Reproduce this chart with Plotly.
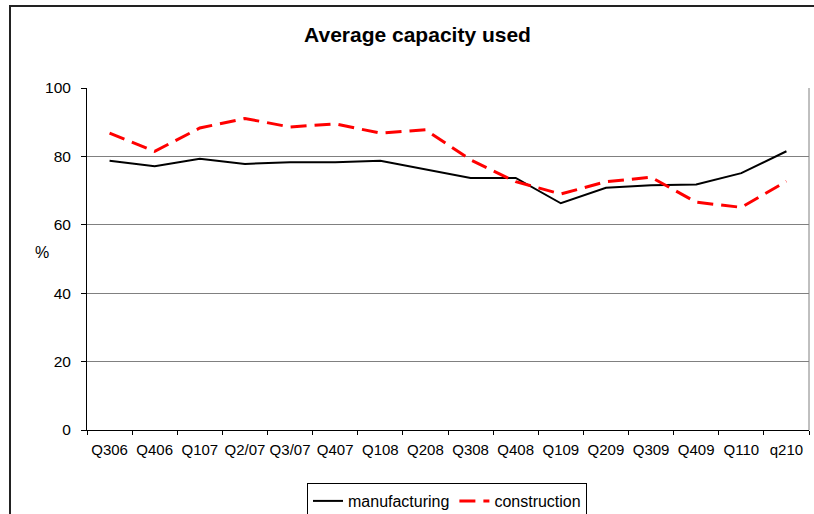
import plotly.graph_objects as go

quarters = ["Q306", "Q406", "Q107", "Q2/07", "Q3/07", "Q407", "Q108", "Q208",
            "Q308", "Q408", "Q109", "Q209", "Q309", "Q409", "Q110", "q210"]
manufacturing = [78.7, 77.1, 79.3, 77.8, 78.3, 78.3, 78.7, 76.2,
                 73.7, 73.7, 66.3, 70.8, 71.6, 71.8, 75.1, 81.5]
construction = [86.8, 81.5, 88.3, 91.1, 88.6, 89.5, 86.8, 87.8,
                79.0, 72.6, 69.0, 72.6, 73.9, 66.6, 65.1, 72.7]

W, H = 814, 514
L, R, T, B = 87, 809, 88, 430   # plot area edges in pixels
PW, PH = R - L, B - T


def px(x):
    return (x - L) / PW


def py(y):
    return (B - y) / PH


fig = go.Figure()
fig.add_trace(go.Scatter(x=quarters, y=manufacturing, mode="lines", name="manufacturing",
                         line=dict(color="black", width=2)))
fig.add_trace(go.Scatter(x=quarters, y=construction, mode="lines", name="construction",
                         line=dict(color="#ff0000", width=3, dash="16px,8px")))

fig.update_layout(
    width=W, height=H,
    margin=dict(l=L, r=W - R, t=T, b=H - B, autoexpand=False),
    paper_bgcolor="white", plot_bgcolor="white",
    font=dict(family="Liberation Sans, Arial, sans-serif", size=15, color="black"),
    title=dict(text="<b>Average capacity used</b>", xref="paper", x=px(417.5), xanchor="center",
               yref="container", y=1 - 35 / H, yanchor="middle", font=dict(size=21)),
    showlegend=True,
    legend=dict(orientation="h", x=px(447), xanchor="center", y=py(483), yanchor="top",
                bordercolor="black", borderwidth=1, bgcolor="white",
                font=dict(size=16), tracegroupgap=0),
    xaxis=dict(type="category", range=[-0.5, 15.5], showgrid=False,
               showline=True, linecolor="black", linewidth=1,
               ticks="outside", tickson="boundaries", ticklen=4, tickcolor="black",
               tickangle=0, ticklabelstandoff=6, fixedrange=True),
    yaxis=dict(range=[0, 100], dtick=20, showgrid=True, gridcolor="#808080", gridwidth=1,
               showline=True, linecolor="black", linewidth=1,
               ticks="outside", ticklen=5, tickcolor="black", zeroline=False,
               tickfont=dict(size=15.5), ticklabelstandoff=7, fixedrange=True),
)

# right plot border
fig.add_shape(type="line", xref="paper", yref="paper", x0=1, x1=1, y0=0, y1=1,
              line=dict(color="#808080", width=1))
# outer chart border
fig.add_shape(type="rect", xref="paper", yref="paper",
              x0=px(10), x1=px(840), y0=py(540), y1=py(6),
              line=dict(color="#222222", width=2), layer="below")

fig.add_annotation(text="%", xref="paper", yref="paper",
                   x=px(42), y=py(253),
                   showarrow=False, font=dict(size=16), xanchor="center", yanchor="middle")

fig.write_html("out.html",
               config=dict(displayModeBar=False),
               post_script="document.body.style.margin='0';"
                           "document.documentElement.style.overflow='hidden';"
                           "document.body.style.overflow='hidden';")
